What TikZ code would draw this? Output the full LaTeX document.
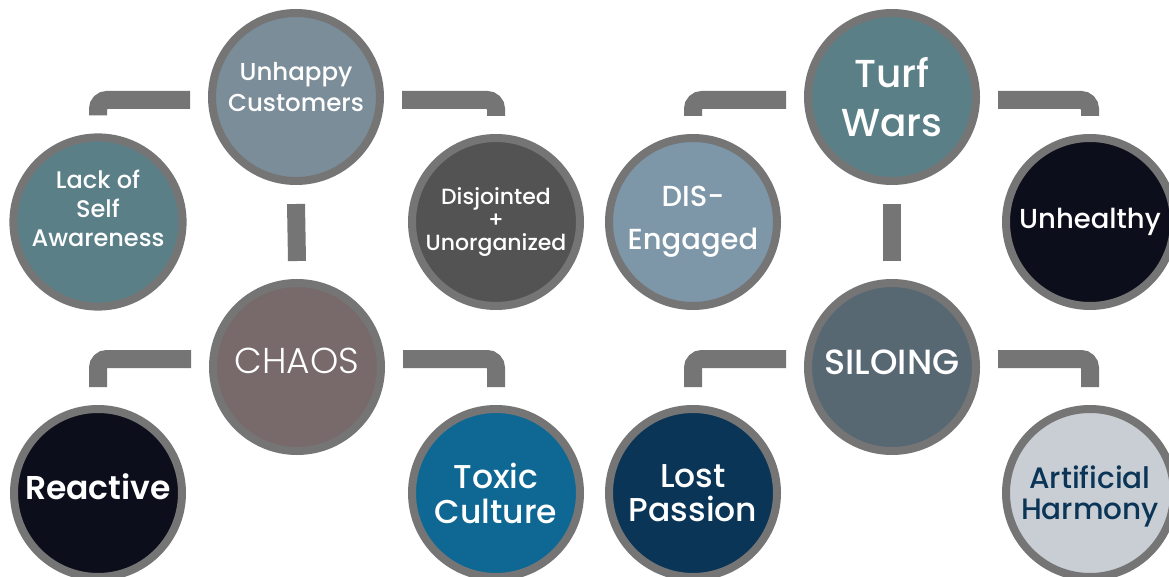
\documentclass[tikz,border=0pt]{standalone}
\usepackage{fontspec}
\setmainfont{Poppins Medium}
\newfontfamily\lightfont{Poppins Light}
\newfontfamily\heavyfont{Poppins SemiBold}
\usetikzlibrary{positioning,calc}

\definecolor{ringgray}{HTML}{757575}
\definecolor{slateblue}{HTML}{7B8D99}
\definecolor{tealgray}{HTML}{5A7F87}
\definecolor{darkgray}{HTML}{535353}
\definecolor{mauvegray}{HTML}{786A6A}
\definecolor{nightnavy}{HTML}{0C0E1B}
\definecolor{oceanblue}{HTML}{0E6893}
\definecolor{mistblue}{HTML}{7D96A8}
\definecolor{steelgray}{HTML}{576873}
\definecolor{deepnavy}{HTML}{0A3557}
\definecolor{palegray}{HTML}{C9CED4}

\tikzset{
    bubble/.style={circle,draw=ringgray,line width=8pt,minimum size=168pt,inner sep=0pt,align=center,text=white},
    lift/.style={text depth=#1},
    link/.style={draw=ringgray,line width=18pt,rounded corners=9pt},
}

\begin{document}
\begin{tikzpicture}[x=1pt,y=-1pt]
    \useasboundingbox (0,0) rectangle (1169,577);
    \fill[white] (0,0) rectangle (1169,577);
    \clip (0,0) rectangle (1169,577);

    \node[bubble,lift=20pt,fill=slateblue,font=\fontsize{24.5}{31}\selectfont] (unhappy) at (296,97) {Unhappy\\Customers};
    \node[bubble,lift=28pt,fill=tealgray,font=\fontsize{24}{29}\selectfont] (selfaware) at (98,222) {Lack of\\Self\\Awareness};
    \node[bubble,fill=darkgray,font=\fontsize{22}{23}\selectfont] (disjointed) at (496,222) {Disjointed\\+\\Unorganized};
    \node[bubble,lift=12pt,fill=mauvegray,font=\fontsize{36}{40}\lightfont] (chaos) at (297,367) {CHAOS};
    \node[bubble,lift=12pt,fill=nightnavy,font=\fontsize{33}{38}\heavyfont] (reactive) at (98,493) {Reactive};
    \node[bubble,fill=oceanblue,font=\fontsize{33}{35}\selectfont] (toxic) at (496,493) {Toxic\\Culture};

    \node[bubble,fill=tealgray,font=\fontsize{39}{49}\selectfont] (turf) at (892,97) {Turf\\Wars};
    \node[bubble,fill=mistblue,font=\fontsize{29}{43}\selectfont] (disengaged) at (693,222) {DIS-\\Engaged};
    \node[bubble,fill=nightnavy,font=\fontsize{27.5}{30}\selectfont] (unhealthy) at (1090,222) {Unhealthy};
    \node[bubble,lift=10pt,fill=steelgray,font=\fontsize{35}{38}\selectfont] (siloing) at (892,367) {SILOING};
    \node[bubble,fill=deepnavy,font=\fontsize{33}{34}\selectfont] (lost) at (693,493) {Lost\\Passion};
    \node[bubble,lift=-3pt,fill=palegray,text=deepnavy,font=\fontsize{29.5}{31}\selectfont] (harmony) at (1090,493) {Artificial\\Harmony};

    \foreach \top/\mid/\lft/\rgt/\blft/\brgt in {unhappy/chaos/selfaware/disjointed/reactive/toxic,turf/siloing/disengaged/unhealthy/lost/harmony} {
        \draw[link] ([xshift=-18pt,yshift=-3pt]\top.west) -| ([yshift=18pt]\lft.north);
        \draw[link] ([xshift=18pt,yshift=-3pt]\top.east) -| ([yshift=18pt]\rgt.north);
        \draw[link,rounded corners=0pt] ([yshift=-19pt]\top.south) -- ([yshift=18pt]\mid.north);
        \draw[link] ([xshift=-18pt,yshift=8pt]\mid.west) -| ([yshift=18pt]\blft.north);
        \draw[link] ([xshift=18pt,yshift=8pt]\mid.east) -| ([yshift=18pt]\brgt.north);
    }
\end{tikzpicture}
\end{document}
